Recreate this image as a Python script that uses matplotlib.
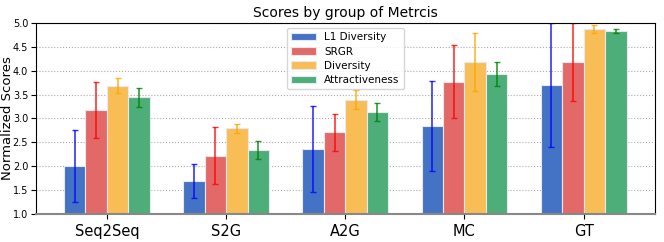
import numpy as np
import matplotlib.pyplot as plt

groups = ['Seq2Seq', 'S2G', 'A2G', 'MC', 'GT']
metrics = ['L1 Diversity', 'SRGR', 'Diversity', 'Attractiveness']

l1_div = [2.00, 1.69, 2.36, 2.84, 3.70]
l1_err = [0.75, 0.36, 0.90, 0.94, 1.30]
srgr = [3.18, 2.22, 2.71, 3.77, 4.18]
srgr_err = [0.58, 0.60, 0.39, 0.77, 0.81]
diversity = [3.69, 2.79, 3.39, 4.18, 4.88]
diversity_err = [0.15, 0.10, 0.20, 0.60, 0.08]
attract = [3.44, 2.34, 3.13, 3.93, 4.83]
attract_err = [0.19, 0.19, 0.19, 0.25, 0.05]

values = [l1_div, srgr, diversity, attract]
errors = [l1_err, srgr_err, diversity_err, attract_err]
bar_colors = ['#4472C4', '#E36868', '#F8BD55', '#4DAE79']
err_colors = ['blue', 'red', 'orange', 'green']

fig = plt.figure(figsize=(6.64, 2.42), dpi=100)
ax = fig.add_axes([0.054, 0.116, 0.932, 0.789])

x = np.arange(len(groups))
width = 0.18
for i in range(4):
    ax.bar(x + (i - 1.5) * width, values[i], width, yerr=errors[i],
           color=bar_colors[i], edgecolor='#e8e8f0', linewidth=0.8,
           label=metrics[i], zorder=2,
           error_kw={'ecolor': err_colors[i], 'elinewidth': 1.2,
                     'capsize': 2, 'capthick': 1, 'alpha': 0.8})

ax.set_ylim(1.0, 5.0)
ax.set_yticks(np.arange(1.0, 5.01, 0.5))
ax.tick_params(axis='y', labelsize=7, pad=2)
ax.tick_params(axis='x', labelsize=10.5)
ax.set_xticks(x)
ax.set_xticklabels(groups)
ax.yaxis.grid(True, linestyle=':', color='#aaaaaa', linewidth=0.8, zorder=0)
ax.set_axisbelow(True)
ax.spines['bottom'].set_color('#888888')
ax.spines['bottom'].set_linewidth(1.5)
ax.set_ylabel('Normalized Scores', fontsize=9.5)
# keep the label inside the figure's left edge
ax.yaxis.set_label_coords(-0.036, 0.5)
ax.set_title('Scores by group of Metrcis', fontsize=10, pad=4)
ax.legend(loc='upper center', fontsize=7.5, handlelength=2.4,
          borderpad=0.4, labelspacing=0.4)

plt.savefig('out.png', dpi=100)
